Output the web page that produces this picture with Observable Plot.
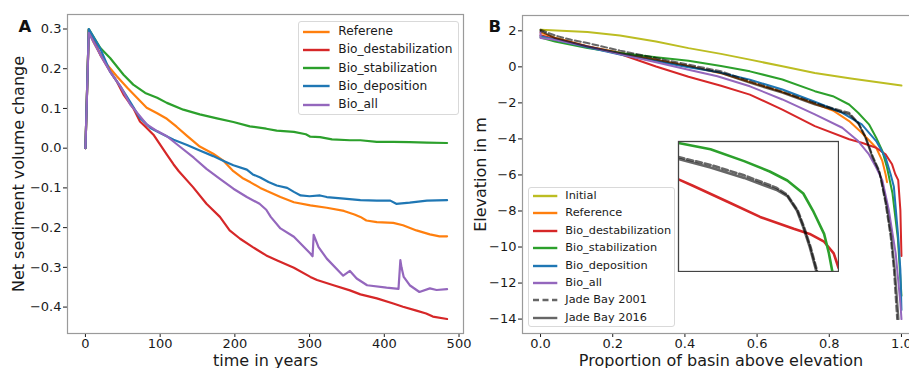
<!DOCTYPE html>
<html><head><meta charset="utf-8">
<script src="https://cdn.jsdelivr.net/npm/d3@7"></script>
<script src="https://cdn.jsdelivr.net/npm/@observablehq/plot@0.6"></script>
<style>
body{margin:0;background:#fff;font-family:"DejaVu Sans",sans-serif;}
#wrap{position:relative;width:909px;height:368px;overflow:hidden;background:#fff;}
.legend{position:absolute;background:rgba(255,255,255,0.85);border:1px solid #d9d9d9;border-radius:3px;box-sizing:border-box;}
.legend .lab{position:absolute;white-space:nowrap;color:#1a1a1a;font-family:"DejaVu Sans",sans-serif;}
.legend svg{position:absolute;overflow:visible;}
</style></head><body><div id="wrap"></div>
<script>
// ---------- Panel A: net sediment volume change vs time ----------
const refT  = [0,4.5,10,20,29,42,56,69,82,96,109,122,136,153,171,185,198,210,221,234,243,261,279,301,323,346,360,368,376,390,412,425,443,461,474,484];
const refV  = [0,0.298,0.27,0.236,0.21,0.181,0.152,0.127,0.102,0.088,0.074,0.054,0.031,0.004,-0.014,-0.032,-0.058,-0.075,-0.086,-0.100,-0.108,-0.123,-0.136,-0.144,-0.150,-0.158,-0.167,-0.173,-0.182,-0.186,-0.188,-0.194,-0.207,-0.217,-0.222,-0.222];
const destT = [0,4.5,20,33,42,51,64,73,82,91,100,109,118,125,144,162,180,193,207,224,242,256,279,301,310,332,354,368,390,412,425,443,456,465,484];
const destV = [0,0.298,0.235,0.193,0.168,0.135,0.101,0.067,0.051,0.034,0.009,-0.016,-0.041,-0.058,-0.098,-0.140,-0.173,-0.207,-0.228,-0.249,-0.270,-0.282,-0.301,-0.324,-0.332,-0.345,-0.358,-0.368,-0.378,-0.391,-0.399,-0.409,-0.416,-0.424,-0.430];
const stabT = [0,4.5,20,33,51,64,80,96,109,131,153,176,198,220,242,256,279,295,301,314,330,354,368,390,412,434,457,484];
const stabV = [0,0.300,0.252,0.227,0.185,0.160,0.139,0.127,0.114,0.097,0.085,0.075,0.066,0.055,0.049,0.044,0.041,0.035,0.029,0.028,0.022,0.020,0.020,0.016,0.016,0.015,0.014,0.013];
const depT  = [0,4.5,20,33,47,60,73,87,100,118,136,153,171,185,198,216,224,234,245,256,270,279,288,300,314,323,346,368,390,408,416,434,457,484];
const depV  = [0,0.300,0.250,0.193,0.155,0.116,0.076,0.051,0.038,0.021,0.008,-0.006,-0.020,-0.032,-0.043,-0.054,-0.066,-0.074,-0.085,-0.094,-0.100,-0.110,-0.119,-0.121,-0.119,-0.123,-0.127,-0.131,-0.132,-0.132,-0.140,-0.137,-0.132,-0.131];
const allT  = [0,4.5,20,33,47,60,82,96,109,127,145,162,180,198,216,233,242,248,261,279,301,304,305.5,312,323,345,354,363,377,403,419,421.5,423,426,434,447,461,470,484];
const allV  = [0,0.290,0.235,0.193,0.155,0.110,0.060,0.043,0.030,0.003,-0.024,-0.052,-0.077,-0.102,-0.123,-0.140,-0.155,-0.173,-0.202,-0.223,-0.265,-0.272,-0.218,-0.249,-0.278,-0.321,-0.309,-0.328,-0.345,-0.351,-0.354,-0.282,-0.300,-0.324,-0.345,-0.362,-0.353,-0.357,-0.355];
const xTicksA = [0,100,200,300,400,500];
const yTicksA = [-0.4,-0.3,-0.2,-0.1,0.0,0.1,0.2,0.3];

// ---------- Panel B: hypsometry ----------
const initP = [0,0.13,0.22,0.32,0.41,0.5,0.58,0.67,0.76,0.86,0.95,1.0];
const initE = [2.06,1.93,1.74,1.41,1.04,0.72,0.40,0.03,-0.34,-0.65,-0.89,-1.04];
const refP  = [0,0.04,0.13,0.22,0.32,0.41,0.5,0.58,0.67,0.76,0.81,0.855,0.89,0.93,0.947,0.956,0.96];
const refE  = [1.9,1.62,1.15,0.78,0.40,0.03,-0.35,-0.85,-1.40,-2.05,-2.42,-3.01,-3.66,-4.49,-5.22,-5.96,-6.4];
const destP = [0,0.04,0.13,0.22,0.32,0.41,0.5,0.58,0.67,0.76,0.855,0.89,0.93,0.956,0.974,0.983,0.991,0.997,1.0];
const destE = [1.75,1.55,1.13,0.71,0.02,-0.55,-1.05,-1.54,-2.37,-3.29,-4.02,-4.21,-4.49,-4.86,-5.41,-5.96,-6.29,-7.95,-10.5];
const stabP = [0,0.04,0.13,0.22,0.32,0.41,0.5,0.58,0.67,0.76,0.81,0.855,0.88,0.91,0.93,0.947,0.96,0.975,0.99,1.0];
const stabE = [1.63,1.41,1.04,0.77,0.53,0.34,0.05,-0.25,-0.70,-1.35,-1.63,-2.09,-2.55,-3.19,-3.93,-4.67,-5.59,-7.0,-9.5,-12.7];
const depP  = [0,0.04,0.13,0.22,0.32,0.41,0.49,0.58,0.67,0.76,0.836,0.89,0.93,0.956,0.97,0.979,0.991,0.997,1.0];
const depE  = [1.7,1.5,1.08,0.68,0.31,-0.02,-0.28,-0.71,-1.26,-1.94,-2.55,-3.19,-4.12,-5.04,-5.96,-6.66,-9.43,-11.27,-13.5];
const allP  = [0,0,0.04,0.13,0.22,0.32,0.41,0.49,0.58,0.67,0.76,0.836,0.88,0.91,0.93,0.947,0.965,0.984,0.997,1.0];
const allE  = [1.95,1.6,1.5,1.13,0.71,0.25,-0.16,-0.52,-1.08,-1.81,-2.64,-3.38,-4.12,-4.86,-5.59,-6.29,-7.95,-10.35,-13.11,-14.0];
const jade01P = [0,0.04,0.085,0.13,0.22,0.32,0.41,0.5,0.58,0.67,0.76,0.81,0.855,0.88,0.90,0.92,0.938,0.956,0.97,0.979,0.988];
const jade01E = [2.06,1.74,1.50,1.32,0.90,0.49,0.12,-0.25,-0.80,-1.38,-2.0,-2.3,-2.55,-3.1,-3.85,-4.95,-5.74,-7.58,-9.43,-11.27,-14.0];
const jade16P = [0,0.04,0.13,0.22,0.32,0.41,0.5,0.58,0.67,0.76,0.81,0.855,0.882,0.90,0.92,0.94,0.958,0.972,0.982,0.992];
const jade16E = [2.0,1.6,1.13,0.77,0.40,0.04,-0.34,-0.89,-1.44,-2.09,-2.37,-2.64,-3.19,-3.93,-5.04,-5.9,-7.6,-9.4,-11.3,-14.0];
const xTicksB = [0,0.2,0.4,0.6,0.8,1.0];
const yTicksB = [2,0,-2,-4,-6,-8,-10,-12,-14];

// ---------- Inset (zoom of knee) ----------
const insetStabP = [0.6,0.68,0.764,0.828,0.872,0.912,0.936,0.964,0.976,0.984,0.987];
const insetStabE = [-0.56,-0.83,-1.33,-1.77,-2.15,-2.70,-3.42,-4.41,-5.23,-5.95,-6.2];
const insetJade16P = [0.6,0.68,0.764,0.844,0.872,0.896,0.912,0.928,0.944,0.946];
const insetJade16E = [-1.24,-1.6,-2.04,-2.54,-2.81,-3.42,-4.13,-4.96,-5.95,-6.2];
const insetJade01P = [0.6,0.68,0.764,0.844,0.872,0.898,0.914,0.93,0.946,0.948];
const insetJade01E = [-1.16,-1.49,-1.93,-2.45,-2.76,-3.42,-4.13,-4.96,-5.95,-6.2];
const insetDestP = [0.6,0.636,0.72,0.804,0.888,0.928,0.964,0.988,1.0];
const insetDestE = [-2.1,-2.37,-3.03,-3.69,-4.19,-4.41,-4.74,-5.23,-5.84];

const C = {orange:"#ff7f0e", red:"#d62728", green:"#2ca02c", blue:"#1f77b4", purple:"#9467bd", olive:"#bcbd22"};
const pairs = (xs, ys) => xs.map((x,i) => ({x, y: ys[i]}));

const seriesA = [
  {name:"Referene", color:C.orange, x:refT, y:refV},
  {name:"Bio_destabilization", color:C.red, x:destT, y:destV},
  {name:"Bio_stabilization", color:C.green, x:stabT, y:stabV},
  {name:"Bio_deposition", color:C.blue, x:depT, y:depV},
  {name:"Bio_all", color:C.purple, x:allT, y:allV}
];
const seriesB = [
  {name:"Initial", color:C.olive, x:initP, y:initE},
  {name:"Reference", color:C.orange, x:refP, y:refE},
  {name:"Bio_destabilization", color:C.red, x:destP, y:destE},
  {name:"Bio_stabilization", color:C.green, x:stabP, y:stabE},
  {name:"Bio_deposition", color:C.blue, x:depP, y:depE},
  {name:"Bio_all", color:C.purple, x:allP, y:allE},
  {name:"Jade Bay 2001", color:"#000", opacity:0.6, dash:"6,3", x:jade01P, y:jade01E},
  {name:"Jade Bay 2016", color:"#000", opacity:0.6, x:jade16P, y:jade16E}
];
const seriesInset = [
  {color:C.red, x:insetDestP, y:insetDestE},
  {color:C.green, x:insetStabP, y:insetStabE},
  {color:"#000", opacity:0.6, dash:"6,3", x:insetJade01P, y:insetJade01E},
  {color:"#000", opacity:0.6, x:insetJade16P, y:insetJade16E}
];

const wrap = document.getElementById("wrap");
const FONT = "DejaVu Sans";

const plotA = Plot.plot({
  width: 470, height: 368,
  marginLeft: 67, marginRight: 7, marginTop: 14, marginBottom: 35,
  style: {fontFamily: FONT, fontSize: "13px", color: "#1a1a1a", background: "transparent", overflow: "visible"},
  x: {domain: [-24, 506], ticks: xTicksA, tickFormat: d3.format("d"), tickSize: 4, tickPadding: 1, label: null},
  y: {domain: [-0.4665, 0.3365], ticks: yTicksA, tickFormat: d3.format(".1f"), tickSize: 4, tickPadding: 2, label: null},
  marks: [
    Plot.frame({stroke: "#9a9a9a", strokeWidth: 1.2}),
    ...seriesA.map(s => Plot.line(pairs(s.x, s.y), {x: "x", y: "y", stroke: s.color, strokeWidth: 2.2, strokeLinejoin: "round"})),
    Plot.text(["Net sediment volume change"], {frameAnchor: "left", dx: -44, rotate: -90, textAnchor: "middle", lineAnchor: "bottom", fontSize: 16, fill: "#1a1a1a"}),
    Plot.text(["time in years"], {frameAnchor: "bottom", dy: 32, textAnchor: "middle", lineAnchor: "bottom", fontSize: 16, fill: "#1a1a1a"}),
    Plot.text(["A"], {frameAnchor: "top-left", dx: -49, dy: 17, textAnchor: "start", lineAnchor: "bottom", fontSize: 16.5, fontWeight: "bold", fill: "#111"})
  ]
});
plotA.style.position = "absolute"; plotA.style.left = "0px"; plotA.style.top = "0px";
wrap.appendChild(plotA);

const plotB = Plot.plot({
  width: 450, height: 368,
  marginLeft: 52, marginRight: 1, marginTop: 15, marginBottom: 35,
  style: {fontFamily: FONT, fontSize: "13px", color: "#1a1a1a", background: "transparent", overflow: "visible"},
  x: {domain: [-0.05, 1.05], ticks: xTicksB, tickFormat: d3.format(".1f"), tickSize: 4, tickPadding: 1, label: null},
  y: {domain: [-14.8, 2.85], ticks: yTicksB, tickFormat: d3.format("d"), tickSize: 4, tickPadding: 2, label: null},
  marks: [
    Plot.frame({stroke: "#9a9a9a", strokeWidth: 1.2}),
    ...seriesB.map(s => Plot.line(pairs(s.x, s.y), {x: "x", y: "y", stroke: s.color, strokeOpacity: s.opacity ?? 1, strokeDasharray: s.dash, strokeWidth: 2, strokeLinejoin: "round"})),
    Plot.text(["Elevation in m"], {frameAnchor: "left", dx: -37, rotate: -90, textAnchor: "middle", lineAnchor: "bottom", fontSize: 16, fill: "#1a1a1a"}),
    Plot.text(["Proportion of basin above elevation"], {frameAnchor: "bottom", dy: 32, textAnchor: "middle", lineAnchor: "bottom", fontSize: 16, fill: "#1a1a1a"}),
    Plot.text(["B"], {frameAnchor: "top-left", dx: -34, dy: 16, textAnchor: "start", lineAnchor: "bottom", fontSize: 16.5, fontWeight: "bold", fill: "#111"})
  ]
});
plotB.style.position = "absolute"; plotB.style.left = "470px"; plotB.style.top = "0px";
wrap.appendChild(plotB);

const inset = Plot.plot({
  width: 162, height: 132,
  marginLeft: 1, marginRight: 1, marginTop: 1, marginBottom: 1,
  style: {background: "#fff"},
  x: {domain: [0.6, 1.0], axis: null},
  y: {domain: [-6, -0.5], axis: null},
  marks: [
    ...seriesInset.map(s => Plot.line(pairs(s.x, s.y), {x: "x", y: "y", stroke: s.color, strokeOpacity: s.opacity ?? 1, strokeDasharray: s.dash, strokeWidth: 2.6, clip: true, strokeLinejoin: "round"})),
    Plot.frame({stroke: "#444", strokeWidth: 1.3})
  ]
});
inset.style.position = "absolute"; inset.style.left = "677px"; inset.style.top = "140px";
wrap.appendChild(inset);

function legend(items, box, o) {
  const d = document.createElement("div");
  d.className = "legend";
  Object.assign(d.style, {left: box.left + "px", top: box.top + "px", width: box.w + "px", height: box.h + "px"});
  items.forEach((it, i) => {
    const cy = o.row0 - box.top + i * o.step;
    const s = document.createElementNS("http://www.w3.org/2000/svg", "svg");
    s.setAttribute("width", o.hw); s.setAttribute("height", 8);
    s.style.left = (o.hx - box.left) + "px"; s.style.top = (cy - 4) + "px";
    const l = document.createElementNS("http://www.w3.org/2000/svg", "line");
    l.setAttribute("x1", 0); l.setAttribute("x2", o.hw); l.setAttribute("y1", 4); l.setAttribute("y2", 4);
    l.setAttribute("stroke", it.color); l.setAttribute("stroke-width", o.lw);
    if (it.opacity != null) l.setAttribute("stroke-opacity", it.opacity);
    if (it.dash) l.setAttribute("stroke-dasharray", "6,3.5");
    s.appendChild(l); d.appendChild(s);
    const t = document.createElement("div");
    t.className = "lab"; t.textContent = it.name;
    Object.assign(t.style, {left: (o.tx - box.left) + "px", top: (cy - o.fs * 0.62) + "px", fontSize: o.fs + "px", lineHeight: (o.fs * 1.2) + "px"});
    d.appendChild(t);
  });
  wrap.appendChild(d);
}
legend(seriesA, {left: 297.5, top: 20.5, w: 161, h: 94.5}, {row0: 30.7, step: 18.25, hx: 301.7, hw: 26.6, tx: 337.3, fs: 12.2, lw: 2.4});
legend(seriesB, {left: 528, top: 187, w: 147, h: 140}, {row0: 195, step: 17.4, hx: 531.7, hw: 24.3, tx: 564.3, fs: 11.3, lw: 2.4});
</script></body></html>
